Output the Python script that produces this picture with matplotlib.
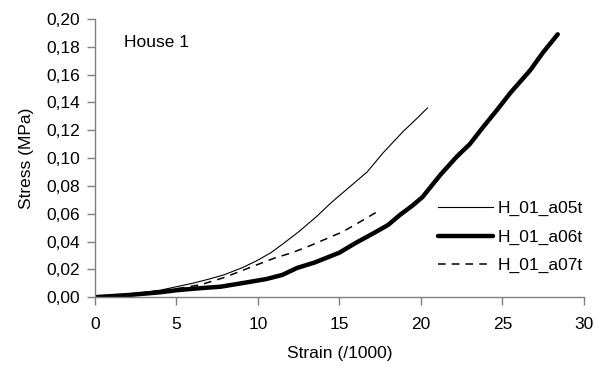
import matplotlib.pyplot as plt
from matplotlib.ticker import FixedLocator

plt.rcParams['font.family'] = ['Liberation Sans', 'DejaVu Sans']

# strain (/1000) and stress (MPa)
a05t_x = [0, 2.0, 4.0, 4.8, 6.0, 7.0, 7.9, 9.0, 9.9, 10.8, 11.5, 12.5, 13.6, 14.5, 15.5, 16.7, 17.7, 18.9, 19.8, 20.4]
a05t_y = [0, 0.002, 0.005, 0.007, 0.010, 0.013, 0.016, 0.021, 0.026, 0.032, 0.038, 0.047, 0.058, 0.068, 0.078, 0.090, 0.104, 0.119, 0.129, 0.136]

a06t_x = [0, 2.0, 4.0, 5.0, 6.5, 7.7, 9.0, 10.5, 11.5, 12.4, 13.5, 15.0, 16.0, 17.1, 18.0, 18.7, 19.5, 20.1, 21.2, 22.2, 23.0, 23.8, 24.7, 25.5, 26.7, 27.5, 28.4]
a06t_y = [0, 0.0015, 0.0035, 0.005, 0.0065, 0.0075, 0.010, 0.013, 0.016, 0.021, 0.025, 0.032, 0.039, 0.046, 0.052, 0.059, 0.066, 0.072, 0.088, 0.101, 0.110, 0.122, 0.135, 0.147, 0.163, 0.176, 0.189]

a07t_x = [0, 2.0, 4.0, 5.0, 6.5, 7.9, 9.0, 10.1, 11.0, 12.1, 13.2, 14.2, 15.2, 16.1, 17.4]
a07t_y = [0, 0.002, 0.0045, 0.006, 0.009, 0.014, 0.019, 0.024, 0.028, 0.032, 0.037, 0.042, 0.047, 0.053, 0.062]

y_ticks = [0, 0.02, 0.04, 0.06, 0.08, 0.10, 0.12, 0.14, 0.16, 0.18, 0.20]
y_tick_labels = ['0,00', '0,02', '0,04', '0,06', '0,08', '0,10', '0,12', '0,14', '0,16', '0,18', '0,20']
x_ticks = [0, 5, 10, 15, 20, 25, 30]

fs = 12.5

fig = plt.figure(figsize=(6.05, 3.8), dpi=100)
ax = fig.add_axes([0.157, 0.218, 0.808, 0.732])

ax.plot(a05t_x, a05t_y, color='black', lw=0.8, label='H_01_a05t')
ax.plot(a06t_x, a06t_y, color='black', lw=3.2, label='H_01_a06t', solid_capstyle='round')
ax.plot(a07t_x, a07t_y, color='black', lw=1.1, dashes=(5, 4), label='H_01_a07t')

ax.set_xlim(0, 30)
ax.set_ylim(0, 0.20)
ax.xaxis.set_major_locator(FixedLocator(x_ticks))
ax.set_yticks(y_ticks)
ax.set_yticklabels(y_tick_labels)

for side in ['top', 'right']:
    ax.spines[side].set_visible(False)
for side in ['left', 'bottom']:
    ax.spines[side].set_color('#808080')
    ax.spines[side].set_linewidth(1.0)
ax.tick_params(direction='out', length=5.5, width=1, color='#808080', labelsize=fs)
ax.tick_params(axis='x', pad=9)
ax.tick_params(axis='y', pad=5)

ax.set_xlabel('Strain (/1000)', fontsize=fs, labelpad=10)
ax.set_ylabel('Stress (MPa)', fontsize=fs, labelpad=9)
ax.text(1.75, 0.183, 'House 1', fontsize=fs, va='center')

ax.legend(loc='center left', bbox_to_anchor=(0.701, 0.216), frameon=False, fontsize=fs,
          handlelength=3.17, handletextpad=0.3, labelspacing=0.75, borderaxespad=0,
          borderpad=0)

plt.savefig('out.png', dpi=100)
